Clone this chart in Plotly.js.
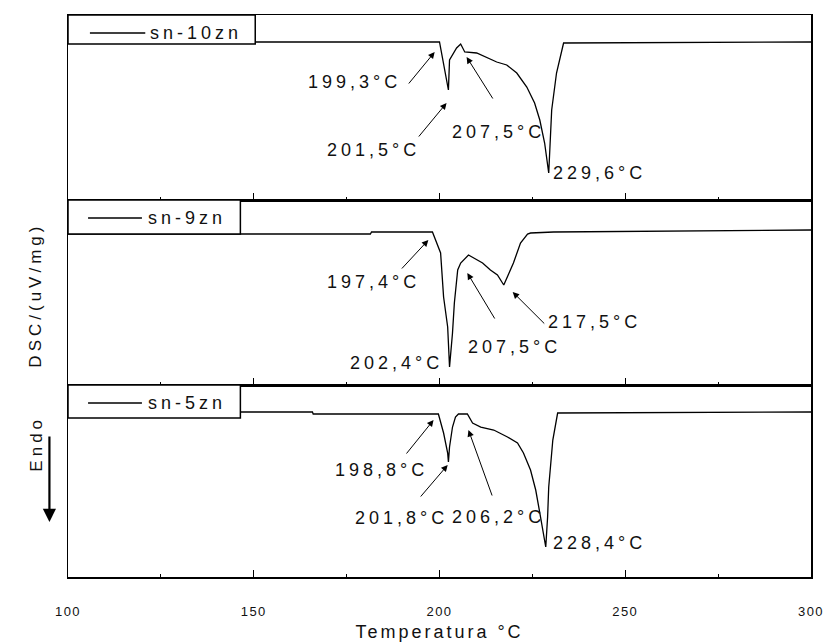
<!DOCTYPE html>
<html>
<head>
<meta charset="utf-8">
<script src="https://cdn.plot.ly/plotly-3.0.1.min.js"></script>
<style>
  html, body { margin: 0; padding: 0; background: #fff; }
  #chart { width: 826px; height: 644px; }
  #chart svg .annotation text { letter-spacing: 4px; }
  #chart svg text[class$="title"] { letter-spacing: 3px; }
  #chart svg g[class$="tick"] text { letter-spacing: 1.5px; }
</style>
</head>
<body>
<div id="chart"></div>
<script>
// ---- Data (temperature °C, DSC signal, arbitrary uV/mg units) ----
const seriesNames = ["sn-10zn", "sn-9zn", "sn-5zn"];

const temp10 = [100, 200.0, 202.4, 202.7, 204.6, 205.7, 206.8, 210.0, 215.4, 218.1, 220.8, 223.5, 225.6, 227.0, 228.3, 229.4, 230.2, 231.5, 233.4, 300];
const dsc10  = [0, 0, -0.48, -0.18, -0.06, -0.02, -0.10, -0.11, -0.20, -0.23, -0.31, -0.45, -0.61, -0.78, -1.01, -1.31, -0.68, -0.31, -0.01, 0];

const temp9 = [100, 181.4, 181.7, 198.1, 200.3, 201.1, 202.2, 202.7, 203.5, 204.0, 204.9, 205.7, 207.8, 209.2, 211.6, 213.7, 215.6, 217.3, 219.9, 221.8, 223.7, 224.5, 230.7, 300];
const dsc9  = [-0.02, -0.02, 0, 0, -0.21, -0.65, -0.95, -1.35, -1.01, -0.71, -0.38, -0.31, -0.23, -0.26, -0.31, -0.38, -0.43, -0.53, -0.31, -0.11, -0.02, -0.01, 0, 0.02];

const temp5 = [100, 165.8, 166.0, 199.7, 201.1, 202.2, 202.4, 202.7, 203.5, 204.3, 205.1, 207.5, 208.9, 211.1, 214.6, 218.3, 221.0, 222.6, 224.5, 225.9, 227.2, 228.6, 229.1, 229.4, 230.5, 231.8, 300];
const dsc5  = [0.02, 0.02, 0, 0, -0.19, -0.39, -0.48, -0.33, -0.13, -0.03, 0, 0, -0.09, -0.13, -0.16, -0.23, -0.29, -0.39, -0.56, -0.76, -1.03, -1.33, -1.03, -0.73, -0.26, 0.01, 0.02];

const labels10 = ["199,3°C", "201,5°C", "207,5°C", "229,6°C"];
const labels9  = ["197,4°C", "202,4°C", "207,5°C", "217,5°C"];
const labels5  = ["198,8°C", "201,8°C", "206,2°C", "228,4°C"];

const xTickVals = [100, 150, 200, 250, 300];
const xTickText = ["100", "150", "200", "250", "300"];

// ---- Styles ----
const FONT = "Liberation Sans, Arial, sans-serif";
const INK = "#111111";
const lineStyle = { color: "#000000", width: 1.3 };

const traces = [
  { x: temp10, y: dsc10, xaxis: "x",  yaxis: "y",  name: seriesNames[0] },
  { x: temp9,  y: dsc9,  xaxis: "x2", yaxis: "y2", name: seriesNames[1] },
  { x: temp5,  y: dsc5,  xaxis: "x3", yaxis: "y3", name: seriesNames[2] }
].map(t => Object.assign(t, { type: "scatter", mode: "lines", line: lineStyle, showlegend: false, hoverinfo: "skip" }));

function xAxis(anchor, labels) {
  return {
    anchor: anchor, domain: [0, 1], range: [100, 300],
    showline: true, linecolor: "#000", linewidth: 1.5, mirror: true,
    ticks: "inside", ticklen: 7, tickwidth: 1.2, tickcolor: "#000",
    tickvals: xTickVals, ticktext: xTickText,
    showticklabels: labels, showgrid: false, zeroline: false,
    minor: { ticks: "inside", ticklen: 3, tickwidth: 1, tickcolor: "#000", dtick: 25, tick0: 100, showgrid: false },
    tickfont: { family: FONT, size: 13, color: INK }
  };
}
function yAxis(anchor, domain, range) {
  return {
    anchor: anchor, domain: domain, range: range,
    showline: true, linecolor: "#000", linewidth: 1.5, mirror: true,
    ticks: "", showticklabels: false, showgrid: false, zeroline: false
  };
}

const xa3 = xAxis("y3", true);
xa3.ticklabelstandoff = 22;
xa3.title = { text: "Temperatura °C", font: { family: FONT, size: 18, color: INK }, standoff: 7 };

// text annotations (centred on the reference text centres)
function textAnn(txt, xr, yr, x, y) {
  return { text: txt, xref: xr, yref: yr, x: x, y: y, xanchor: "center", yanchor: "middle",
           showarrow: false, font: { family: FONT, size: 18, color: INK } };
}
function arrowAnn(xr, yr, tail, head) {
  return { text: "", xref: xr, yref: yr, axref: xr, ayref: yr,
           x: head[0], y: head[1], ax: tail[0], ay: tail[1],
           showarrow: true, arrowhead: 2, arrowsize: 1.3, arrowwidth: 1, arrowcolor: "#000" };
}

const annotations = [
  // panel 1
  textAnn(labels10[0], "x", "y", 177.0, -0.40),
  textAnn(labels10[1], "x", "y", 182.1, -1.08),
  textAnn(labels10[2], "x", "y", 216.0, -0.90),
  textAnn(labels10[3], "x", "y", 243.0, -1.31),
  arrowAnn("x", "y", [191.4, -0.43], [198.7, -0.10]),
  arrowAnn("x", "y", [194.1, -0.96], [201.9, -0.61]),
  arrowAnn("x", "y", [214.6, -0.58], [207.3, -0.15]),
  // panel 2
  textAnn(labels9[0], "x2", "y2", 182.3, -0.50),
  textAnn(labels9[1], "x2", "y2", 188.5, -1.31),
  textAnn(labels9[2], "x2", "y2", 220.2, -1.15),
  textAnn(labels9[3], "x2", "y2", 241.8, -0.90),
  arrowAnn("x2", "y2", [189.5, -0.38], [197.0, -0.08]),
  arrowAnn("x2", "y2", [215.1, -0.88], [207.5, -0.41]),
  arrowAnn("x2", "y2", [228.6, -0.93], [219.7, -0.60]),
  // panel 3
  textAnn(labels5[0], "x3", "y3", 184.5, -0.56),
  textAnn(labels5[1], "x3", "y3", 189.8, -1.04),
  textAnn(labels5[2], "x3", "y3", 216.0, -1.03),
  textAnn(labels5[3], "x3", "y3", 243.0, -1.29),
  arrowAnn("x3", "y3", [190.8, -0.41], [198.4, -0.06]),
  arrowAnn("x3", "y3", [194.6, -0.84], [202.2, -0.51]),
  arrowAnn("x3", "y3", [214.3, -0.83], [207.8, -0.16]),
  // legend texts
  textAnn(seriesNames[0], "x", "y", 134.5, 0.09),
  textAnn(seriesNames[1], "x2", "y2", 131.9, 0.14),
  textAnn(seriesNames[2], "x3", "y3", 131.9, 0.11),
  // y axis title and Endo marker
  { text: "DSC/(uV/mg)", xref: "paper", yref: "paper", x: -0.059, y: 0.5018, textangle: -90,
    showarrow: false, font: { family: FONT, size: 17, color: INK } },
  { text: "Endo", xref: "paper", yref: "paper", x: -0.059, y: 0.1975, textangle: -90,
    showarrow: false, font: { family: FONT, size: 17, color: INK } },
  { text: "", xref: "paper", yref: "paper", x: -0.025, y: 0.0979, axref: "pixel", ayref: "pixel",
    ax: 0, ay: -87, showarrow: true, arrowhead: 2, arrowsize: 1.2, arrowwidth: 2.2, arrowcolor: "#000" }
];

// legend boxes
function legendBox(xr, yr, x1, y0, y1, ly, lx0, lx1) {
  return [
    { type: "rect", xref: xr, yref: yr, x0: 100, x1: x1, y0: y0, y1: y1, layer: "above",
      fillcolor: "#fff", line: { color: "#000", width: 1.5 } },
    { type: "line", xref: xr, yref: yr, x0: lx0, x1: lx1, y0: ly, y1: ly, layer: "above",
      line: { color: "#000", width: 1.3 } }
  ];
}
const shapes = [].concat(
  legendBox("x", "y", 150.4, -0.02, 0.27, 0.09, 105.9, 120.8),
  legendBox("x2", "y2", 146.4, -0.02, 0.32, 0.14, 105.4, 119.9),
  legendBox("x3", "y3", 146.4, -0.04, 0.29, 0.11, 105.4, 119.9)
);

const layout = {
  width: 826, height: 644,
  margin: { l: 68, r: 15, t: 15, b: 67 },
  paper_bgcolor: "#fff", plot_bgcolor: "#fff",
  showlegend: false,
  font: { family: FONT, color: INK },
  xaxis: xAxis("y", false),
  xaxis2: xAxis("y2", false),
  xaxis3: xa3,
  yaxis: yAxis("x", [0.6708, 1], [-1.58, 0.27]),
  yaxis2: yAxis("x2", [0.3416, 0.6708], [-1.53, 0.32]),
  yaxis3: yAxis("x3", [0, 0.3416], [-1.63, 0.29]),
  annotations: annotations,
  shapes: shapes
};

Plotly.newPlot("chart", traces, layout, { displayModeBar: false, staticPlot: true });
</script>
</body>
</html>
